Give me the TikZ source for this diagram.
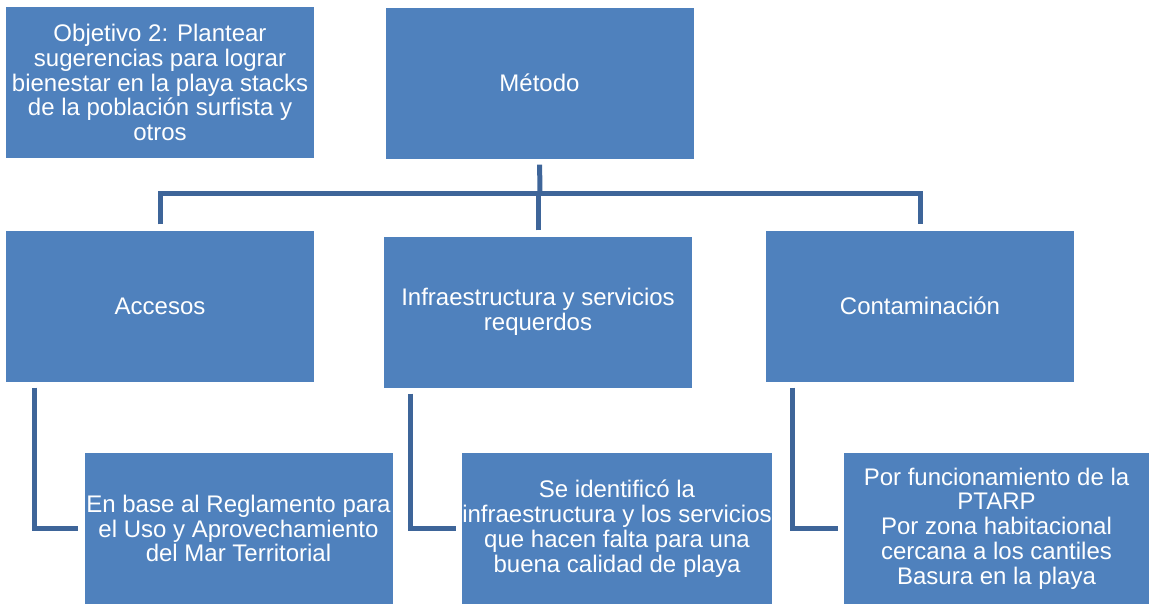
\documentclass[tikz,border=0pt]{standalone}
\usepackage{fontspec}
\setmainfont{Liberation Sans}
\usetikzlibrary{calc}
\definecolor{boxblue}{HTML}{4F81BD}
\definecolor{lineblue}{HTML}{3E6599}
\tikzset{
  stepbox/.style={fill=boxblue, text=white, align=center, inner sep=0pt,
    minimum width=308pt, minimum height=151pt,
    font=\fontsize{24}{24.8}\selectfont},
  link/.style={draw=lineblue, line width=5pt, shorten <=6pt, shorten >=6pt}
}

\begin{document}
\begin{tikzpicture}[x=1pt, y=-1pt]
    \useasboundingbox (0,0) rectangle (1149,606);

    % top row
    \node[stepbox] (objetivo) at (160,82.5) {Objetivo 2: Plantear\\sugerencias para lograr\\bienestar en la playa stacks\\de la población surfista y\\otros};
    \node[stepbox] (metodo) at (539.5,83) {Método};

    % middle row
    \node[stepbox] (accesos) at (160,306) {Accesos};
    \node[stepbox] (infra) at (538,312) {Infraestructura y servicios\\requerdos};
    \node[stepbox] (contam) at (920,306) {Contaminación};

    % bottom row
    \node[stepbox] (reglamento) at (238.5,528.5) {En base al Reglamento para\\el Uso y Aprovechamiento\\del Mar Territorial};
    \node[stepbox] (identifico) at (617,528.5) {Se identificó la\\infraestructura y los servicios\\que hacen falta para una\\buena calidad de playa};
    \node[stepbox, minimum width=305pt] (causas) at (996.5,528.5) {Por funcionamiento de la\\PTARP\\Por zona habitacional\\cercana a los cantiles\\Basura en la playa};

    % tree connectors
    \coordinate (hub) at (540,193);
    \draw[link, shorten >=0pt] (metodo.south) -- (hub);
    \draw[link] (accesos.north) |- (hub) -| (contam.north);
    \draw[link, shorten >=0pt] (infra.north) -- (infra.north |- hub);

    % elbow connectors
    \draw[link] ($(accesos.south west)+(29,0)$) |- (reglamento.west);
    \draw[link] ($(infra.south west)+(27,0)$) |- (identifico.west);
    \draw[link] ($(contam.south west)+(27,0)$) |- (causas.west);

\end{tikzpicture}
\end{document}
